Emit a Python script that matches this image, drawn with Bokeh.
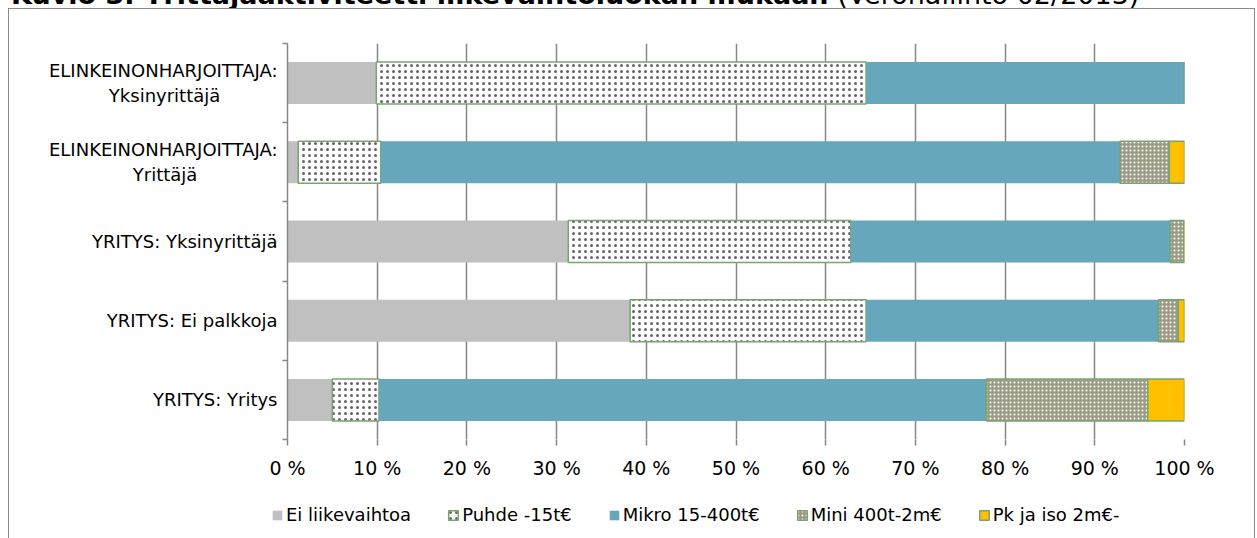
import numpy as np
from bokeh.plotting import figure
from bokeh.layouts import column
from bokeh.models import (ColumnDataSource, FixedTicker, Range1d, Legend,
                          LegendItem, Div)
from bokeh.embed import file_html
from bokeh.resources import INLINE

# ---------------- data ----------------
categories = ["ELINKEINONHARJOITTAJA:\nYksinyrittäjä",
              "ELINKEINONHARJOITTAJA:\nYrittäjä",
              "YRITYS: Yksinyrittäjä",
              "YRITYS: Ei palkkoja",
              "YRITYS: Yritys"]
series_names = ["Ei liikevaihtoa", "Puhde -15t€", "Mikro 15-400t€",
                "Mini 400t-2m€", "Pk ja iso 2m€-"]
ei_liikevaihtoa = [9.9, 1.2, 31.3, 38.2, 5.0]
puhde = [54.6, 9.2, 31.5, 26.3, 5.2]
mikro = [35.5, 82.4, 35.6, 32.6, 67.7]
mini = [0.0, 5.5, 1.5, 2.2, 18.0]
pk_ja_iso = [0.0, 1.7, 0.1, 0.7, 4.1]
tick_values = [0, 10, 20, 30, 40, 50, 60, 70, 80, 90, 100]
tick_labels = ["0 %", "10 %", "20 %", "30 %", "40 %", "50 %",
               "60 %", "70 %", "80 %", "90 %", "100 %"]
title_bold = "Kuvio 3. Yrittäjäaktiviteetti liikevaihtoluokan mukaan"
title_normal = "(Verohallinto 02/2013)"

# ---------------- geometry (page px) ----------------
W = 1257
MAIN_TOP, MAIN_BOTTOM = 8, 498     # main figure on the page
LEG_H = 538 - MAIN_BOTTOM          # legend strip below it
X0PX, X1PX = 287, 1184             # 0 % and 100 %
FY0, FY1 = 43, 439                 # plot area top / bottom
LEGEND_LEFT = 271
n = len(categories)

FONT = "DejaVu Sans"
GRID = "#878787"
BORDER_GREEN = "#78a46f"
BOX_CSS = (":host::after { content: ''; position: absolute; left: 8px; top: 0px;"
           " width: 1247px; bottom: 0px; box-sizing: border-box;"
           " border: 1px solid #898989; %s pointer-events: none; z-index: 100; }")


def centered_two_lines(label):
    """Pad the shorter second line so both lines look centred (NBSP padding)."""
    if "\n" not in label:
        return label
    first, second = label.split("\n")
    pad = int(round((len(first) * 10.3 - len(second) * 8.6) / 2 / 5.7))
    return first + "\n" + second + "\u00a0" * max(pad, 0)


p = figure(width=W, height=MAIN_BOTTOM - MAIN_TOP, output_backend="svg",
           toolbar_location=None, x_range=Range1d(0, 100),
           y_range=Range1d(n, 0))
p.min_border_left = X0PX
p.min_border_right = W - X1PX
p.min_border_top = FY0 - MAIN_TOP
p.min_border_bottom = MAIN_BOTTOM - FY1
p.outline_line_color = None
p.background_fill_color = "white"
p.border_fill_color = "white"
p.styles = {"margin-top": "-18px", "position": "relative"}
p.stylesheets = [BOX_CSS % "border-bottom: none;"]

# ---------------- stacked bars ----------------
values = [ei_liikevaihtoa, puhde, mikro, mini, pk_ja_iso]
arr = np.array(values, dtype=float)
cum = np.cumsum(arr, axis=0)
lefts = np.vstack([np.zeros(n), cum[:-1]])
ypos = np.arange(n) + 0.5

styles = [
    dict(fill_color="#c0c0c0", line_color=None),
    dict(fill_color="white", line_color=BORDER_GREEN, line_width=1.5,
         hatch_pattern="dot", hatch_color="black", hatch_scale=6,
         hatch_weight=0.1, hatch_alpha=0.6),
    dict(fill_color="#66a7bb", line_color=None),
    dict(fill_color="#9c9b86", line_color=BORDER_GREEN, line_width=1.5,
         hatch_pattern="dot", hatch_color="white", hatch_scale=4,
         hatch_weight=0.5),
    dict(fill_color="#ffc000", line_color=BORDER_GREEN, line_width=1.5),
]

for i, name in enumerate(series_names):
    src = ColumnDataSource(dict(y=ypos, left=lefts[i], right=cum[i]))
    p.hbar(y="y", left="left", right="right", height=0.53, source=src,
           **styles[i])

# ---------------- axes / grid ----------------
p.xaxis.ticker = FixedTicker(ticks=tick_values)
p.xaxis.major_label_overrides = {v: t for v, t in zip(tick_values, tick_labels)}
p.xaxis.axis_line_color = None
p.xaxis.major_tick_line_color = GRID
p.xaxis.major_tick_line_width = 1.5
p.xaxis.major_tick_out = 6
p.xaxis.major_tick_in = 0
p.xaxis.minor_tick_line_color = None
p.xaxis.major_label_standoff = 11
p.xaxis.major_label_text_font = FONT
p.xaxis.major_label_text_font_size = "19px"
p.xaxis.major_label_text_color = "black"

p.yaxis.ticker = FixedTicker(ticks=list(ypos), minor_ticks=list(range(n + 1)))
p.yaxis.major_label_overrides = {float(y): centered_two_lines(c)
                                 for y, c in zip(ypos, categories)}
p.yaxis.axis_line_color = GRID
p.yaxis.axis_line_width = 1.5
p.yaxis.major_tick_line_color = None
p.yaxis.major_tick_out = 0
p.yaxis.major_tick_in = 0
p.yaxis.minor_tick_line_color = GRID
p.yaxis.minor_tick_line_width = 1.5
p.yaxis.minor_tick_out = 5
p.yaxis.minor_tick_in = 0
p.yaxis.major_label_standoff = 5
p.yaxis.major_label_text_font = FONT
p.yaxis.major_label_text_font_size = "18px"
p.yaxis.major_label_text_color = "black"

p.xgrid.ticker = FixedTicker(ticks=tick_values)
p.xgrid.grid_line_color = GRID
p.xgrid.grid_line_width = 1.5
p.ygrid.grid_line_color = None

# ---------------- legend strip (own small figure, same styles) ----------------
pl = figure(width=W, height=LEG_H, output_backend="svg", toolbar_location=None,
            x_range=Range1d(0, 100), y_range=Range1d(0, n),
            x_axis_location=None, y_axis_location=None)
pl.min_border = 0
pl.outline_line_color = None
pl.xgrid.visible = False
pl.ygrid.visible = False
pl.border_fill_color = "white"
pl.background_fill_color = "white"
pl.styles = {"position": "relative"}
pl.stylesheets = [BOX_CSS % "border-top: none; border-bottom: none;"]
legend_x = X0PX - X0PX  # frame of the strip aligned with the main plot
if "frame_align" in pl.properties():
    pl.frame_align = False
    legend_x = LEGEND_LEFT

# hidden copies of the series: they only lend their styles to the swatches
leg_renderers = []
for i, name in enumerate(series_names):
    src = ColumnDataSource(dict(y=ypos, left=lefts[i], right=cum[i]))
    leg_renderers.append(pl.hbar(y="y", left="left", right="right",
                                 height=0.53, source=src, visible=False,
                                 **styles[i]))

legend = Legend(items=[LegendItem(label=nm, renderers=[r])
                       for nm, r in zip(series_names, leg_renderers)],
                orientation="horizontal", location=(legend_x, 13),
                glyph_width=12, glyph_height=12, label_standoff=3,
                spacing=36, padding=0, margin=0, border_line_color=None,
                background_fill_alpha=0, inactive_fill_alpha=0,
                label_text_font=FONT, label_text_font_size="18px",
                label_text_color="black")
pl.add_layout(legend)

# ---------------- title (cut at the top, as in the reference) ----------------
title_div = Div(
    text=f'<span style="font-weight:bold">{title_bold}</span> {title_normal}',
    width=1240, height=26, margin=(0, 0, 0, 11),
    styles={"position": "relative", "top": "-18px", "font-family": FONT,
            "font-size": "27px", "line-height": "26px", "color": "black",
            "white-space": "nowrap"})

layout = column(title_div, p, pl, spacing=0)
open("out.html", "w").write(file_html(layout, INLINE))
